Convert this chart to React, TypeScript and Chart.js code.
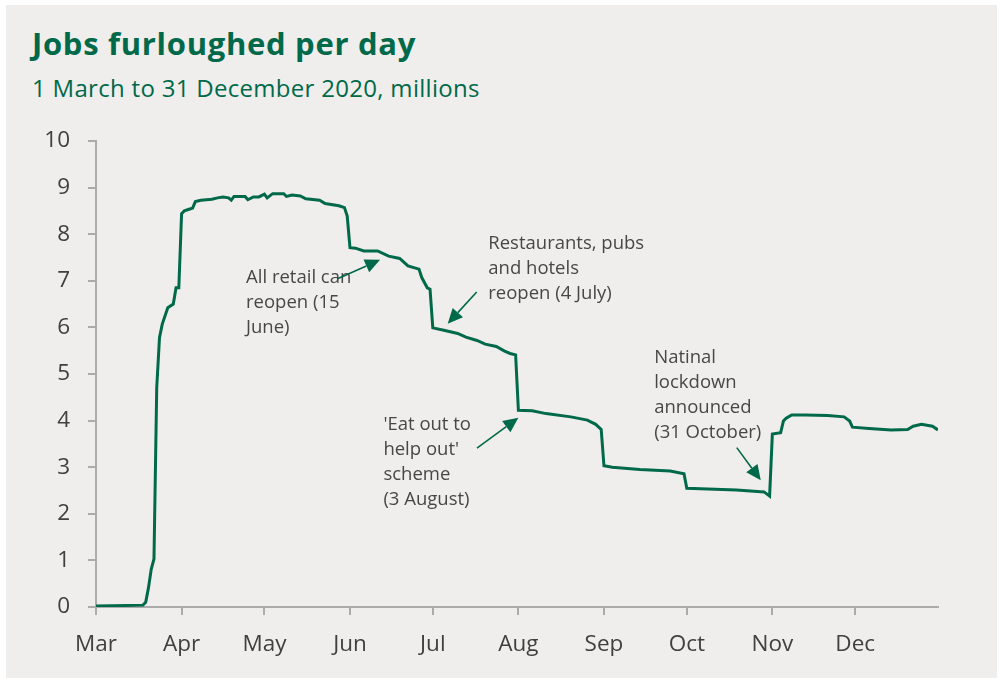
import React, { useEffect, useRef } from "react";
import { Chart, registerables } from "chart.js";

Chart.register(...registerables);

// Day index counted from 1 March 2020 (day 0) to 31 December 2020 (day 305)
const days = [
  0, 17, 18, 19, 20, 21, 22, 23, 24, 26, 28, 29, 30, 31, 32, 34, 35, 36, 38, 42,
  44, 46, 48, 49, 50, 54, 55, 57, 59, 61, 62, 64, 68, 69, 71, 74, 76, 81, 83, 88,
  90, 91, 92, 94, 97, 102, 106, 110, 113, 117, 118, 120, 121, 122, 126, 131, 134, 138, 141, 145,
  148, 150, 152, 153, 158, 163, 172, 178, 181, 183, 184, 187, 197, 208, 213, 214, 219, 232, 242, 244,
  245, 248, 249, 250, 252, 257, 265, 271, 273, 274, 280, 288, 294, 296, 299, 303, 305,
];
const furloughedMillions = [
  0.02, 0.04, 0.1, 0.41, 0.81, 1.03, 4.71, 5.78, 6.07, 6.42, 6.5, 6.85, 6.85, 8.44, 8.5, 8.54, 8.56, 8.7, 8.73, 8.75,
  8.78, 8.8, 8.78, 8.73, 8.81, 8.81, 8.74, 8.8, 8.8, 8.86, 8.78, 8.87, 8.87, 8.81, 8.84, 8.82, 8.76, 8.73, 8.66, 8.61,
  8.57, 8.39, 7.71, 7.7, 7.64, 7.64, 7.53, 7.48, 7.32, 7.25, 7.07, 6.85, 6.82, 5.99, 5.94, 5.87, 5.79, 5.72, 5.64, 5.59,
  5.49, 5.44, 5.41, 4.22, 4.21, 4.15, 4.08, 4.01, 3.92, 3.81, 3.03, 3.0, 2.95, 2.92, 2.86, 2.55, 2.54, 2.51, 2.47, 2.38,
  3.71, 3.74, 3.99, 4.05, 4.12, 4.12, 4.11, 4.08, 3.99, 3.86, 3.83, 3.8, 3.81, 3.88, 3.92, 3.88, 3.8,
];

const monthStartDays = [0, 31, 61, 92, 122, 153, 184, 214, 245, 275];
const monthLabels = ["Mar", "Apr", "May", "Jun", "Jul", "Aug", "Sep", "Oct", "Nov", "Dec"];
const yTicks = [0, 1, 2, 3, 4, 5, 6, 7, 8, 9, 10];

const annotationTexts = [
  ["All retail can", "reopen (15", "June)"],
  ["Restaurants, pubs", "and hotels", "reopen (4 July)"],
  ["'Eat out to", "help out'", "scheme", "(3 August)"],
  ["Natinal", "lockdown", "announced", "(31 October)"],
];
// text anchor (day, value of first baseline), arrow start and tip (day, value)
const annotationGeom = [
  { text: [54.35, 6.96], from: [87.3, 7.04], to: [102.9, 7.45] },
  { text: [142.1, 7.676], from: [137.9, 6.76], to: [127.4, 6.08] },
  { text: [104.1, 3.79], from: [138, 3.41], to: [153, 4.06] },
  { text: [202.2, 5.24], from: [232.1, 3.42], to: [240.8, 2.72] },
];

const GREEN = "#00694a";
const AXIS = "#ababab";
const TEXT = "#404040";

const annotationPlugin = {
  id: "notes",
  afterDatasetsDraw(chart: any) {
    const { ctx, scales } = chart;
    const xs = scales.x;
    const ys = scales.y;
    ctx.save();
    annotationGeom.forEach((g, i) => {
      const tx = xs.getPixelForValue(g.text[0]);
      const ty = ys.getPixelForValue(g.text[1]);
      ctx.fillStyle = "#474747";
      ctx.font = "18.5px 'Open Sans'";
      ctx.textAlign = "left";
      ctx.textBaseline = "alphabetic";
      annotationTexts[i].forEach((line, j) => {
        ctx.fillText(line, tx, ty + j * 25);
      });
      const x1 = xs.getPixelForValue(g.from[0]);
      const y1 = ys.getPixelForValue(g.from[1]);
      const x2 = xs.getPixelForValue(g.to[0]);
      const y2 = ys.getPixelForValue(g.to[1]);
      const ang = Math.atan2(y2 - y1, x2 - x1);
      const headLen = 15;
      const headHalf = 7;
      const bx = x2 - headLen * Math.cos(ang);
      const by = y2 - headLen * Math.sin(ang);
      ctx.strokeStyle = GREEN;
      ctx.lineWidth = 1.6;
      ctx.beginPath();
      ctx.moveTo(x1, y1);
      ctx.lineTo(bx, by);
      ctx.stroke();
      ctx.fillStyle = GREEN;
      ctx.beginPath();
      ctx.moveTo(x2, y2);
      ctx.lineTo(bx + headHalf * Math.sin(ang), by - headHalf * Math.cos(ang));
      ctx.lineTo(bx - headHalf * Math.sin(ang), by + headHalf * Math.cos(ang));
      ctx.closePath();
      ctx.fill();
    });
    ctx.restore();
  },
};

export default function App() {
  const canvasRef = useRef<HTMLCanvasElement | null>(null);

  useEffect(() => {
    document.body.style.margin = "0";
    const canvas = canvasRef.current;
    if (!canvas) return;
    const chart = new Chart(canvas, {
      type: "line",
      data: {
        datasets: [
          {
            data: days.map((d, i) => ({ x: d, y: furloughedMillions[i] })),
            borderColor: GREEN,
            borderWidth: 3,
            pointRadius: 0,
            tension: 0,
            fill: false,
          },
        ],
      },
      options: {
        animation: false,
        responsive: false,
        maintainAspectRatio: false,
        devicePixelRatio: 1,
        layout: { padding: { left: 0, top: 141, right: 63, bottom: 0 } },
        plugins: {
          legend: { display: false },
          tooltip: { enabled: false },
          title: { display: false },
        },
        scales: {
          x: {
            type: "linear",
            min: 0,
            max: 305,
            afterBuildTicks: (scale: any) => {
              scale.ticks = monthStartDays.map((v) => ({ value: v }));
            },
            afterFit: (scale: any) => {
              scale.height = 76;
            },
            ticks: {
              autoSkip: false,
              maxRotation: 0,
              padding: 16,
              color: TEXT,
              font: { family: "'Open Sans'", size: 22.5 },
              callback: (_v: any, idx: number) => monthLabels[idx],
            },
            grid: {
              display: true,
              drawOnChartArea: false,
              drawTicks: true,
              tickLength: 8,
              color: AXIS,
              lineWidth: 2,
            },
            border: { display: true, color: AXIS, width: 2 },
          },
          y: {
            min: 0,
            max: 10,
            afterBuildTicks: (scale: any) => {
              scale.ticks = yTicks.map((v) => ({ value: v }));
            },
            afterFit: (scale: any) => {
              scale.width = 96;
            },
            ticks: {
              padding: 18,
              color: TEXT,
              font: { family: "'Open Sans'", size: 22.5 },
              callback: (v: any) => String(v),
            },
            grid: {
              display: true,
              drawOnChartArea: false,
              drawTicks: true,
              tickLength: 8,
              color: AXIS,
              lineWidth: 2,
            },
            border: { display: true, color: AXIS, width: 2 },
          },
        },
      },
      plugins: [annotationPlugin],
    } as any);
    return () => chart.destroy();
  }, []);

  return (
    <div style={{ position: "relative", width: 1001, height: 683, background: "#ffffff", overflow: "hidden" }}>
      <div style={{ position: "absolute", left: 6, top: 5, width: 991, height: 673, background: "#efeeec" }} />
      <div
        style={{
          position: "absolute",
          left: 32,
          top: 21,
          fontFamily: "'Open Sans', sans-serif",
          fontWeight: 700,
          fontSize: 31,
          color: GREEN,
          whiteSpace: "nowrap",
          lineHeight: "44px",
          letterSpacing: "0.7px",
        }}
      >
        Jobs furloughed per day
      </div>
      <div
        style={{
          position: "absolute",
          left: 32,
          top: 71,
          fontFamily: "'Open Sans', sans-serif",
          fontWeight: 400,
          fontSize: 24,
          color: GREEN,
          whiteSpace: "nowrap",
          lineHeight: "34px",
          letterSpacing: "0.3px",
        }}
      >
        1 March to 31 December 2020, millions
      </div>
      <canvas
        ref={canvasRef}
        width={1001}
        height={683}
        style={{ position: "absolute", left: 0, top: 0, width: 1001, height: 683 }}
      />
    </div>
  );
}
